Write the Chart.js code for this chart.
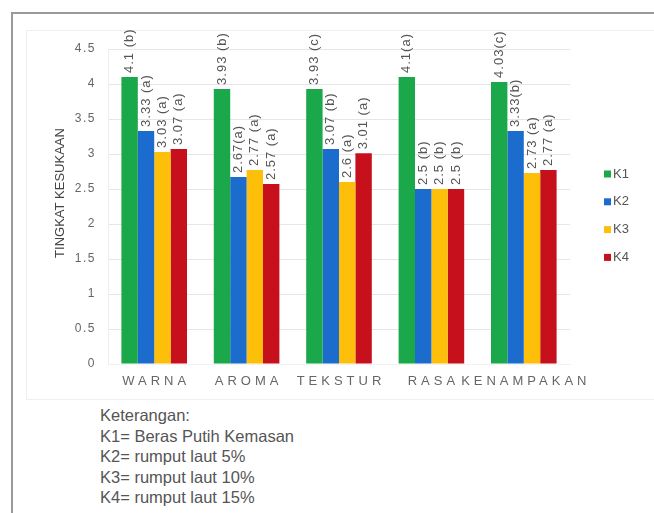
<!DOCTYPE html>
<html>
<head>
<meta charset="utf-8">
<script src="https://cdn.jsdelivr.net/npm/chart.js@4.4.1/dist/chart.umd.min.js"></script>
<style>
    html, body { margin: 0; padding: 0; background: #fff; }
    body { width: 654px; height: 513px; position: relative; overflow: hidden; font-family: "Liberation Sans", Arial, sans-serif; }
    #frame { position: absolute; left: 11px; top: 12px; width: 700px; height: 600px; border-top: 2px solid #9a9a9a; border-left: 2px solid #9a9a9a; }
    #box { position: absolute; left: 26px; top: 30px; width: 700px; height: 368px; border: 1px solid #efefef; }
    #wrap { position: absolute; left: 0; top: 0; width: 654px; height: 400px; }
    #notes { position: absolute; left: 100px; top: 405px; font-size: 16.5px; line-height: 20.5px; color: #555; }
</style>
</head>
<body>
<div id="frame"></div>
<div id="box"></div>
<div id="wrap"><canvas id="chart" width="654" height="400"></canvas></div>
<div id="notes">
    Keterangan:<br>
    K1= Beras Putih Kemasan<br>
    K2= rumput laut 5%<br>
    K3= rumput laut 10%<br>
    K4= rumput laut 15%
</div>
<script>
// chart data
const categories = ['WARNA', 'AROMA', 'TEKSTUR', 'RASA', 'KENAMPAKAN'];
const seriesNames = ['K1', 'K2', 'K3', 'K4'];
const k1 = [4.1, 3.93, 3.93, 4.1, 4.03];
const k2 = [3.33, 2.67, 3.07, 2.5, 3.33];
const k3 = [3.03, 2.77, 2.6, 2.5, 2.73];
const k4 = [3.07, 2.57, 3.01, 2.5, 2.77];
// significance letters shown after each value
const k1Letters = [' (b)', ' (b)', ' (c)', '(a)', '(c)'];
const k2Letters = [' (a)', '(a)', ' (b)', ' (b)', '(b)'];
const k3Letters = [' (a)', ' (a)', ' (a)', ' (b)', ' (a)'];
const k4Letters = [' (a)', ' (a)', ' (a)', ' (b)', ' (a)'];
const yTicks = [0, 0.5, 1, 1.5, 2, 2.5, 3, 3.5, 4, 4.5];
const yTitle = 'TINGKAT KESUKAAN';

const colors = ['#1ba84b', '#1c6cce', '#fdbf0a', '#c6101c'];
const values = [k1, k2, k3, k4];
const letters = [k1Letters, k2Letters, k3Letters, k4Letters];

const textPlugin = {
    id: 'textPlugin',
    beforeDraw(chart) {
        chart.ctx.letterSpacing = '1.5px';
    },
    afterDatasetsDraw(chart) {
        const ctx = chart.ctx;
        // value labels above bars, rotated
        ctx.save();
        ctx.font = '13px "Liberation Sans", Arial, sans-serif';
        ctx.letterSpacing = '1px';
        ctx.fillStyle = '#555';
        ctx.textAlign = 'left';
        ctx.textBaseline = 'middle';
        chart.data.datasets.forEach((ds, di) => {
            const meta = chart.getDatasetMeta(di);
            meta.data.forEach((bar, i) => {
                const text = ds.data[i] + letters[di][i];
                ctx.save();
                ctx.translate(bar.x, bar.y - 4);
                ctx.rotate(-Math.PI / 2);
                ctx.fillText(text, 0, 0);
                ctx.restore();
            });
        });
        ctx.restore();

        // category labels, spaced out
        const xs = chart.scales.x;
        ctx.save();
        ctx.font = '13px "Liberation Sans", Arial, sans-serif';
        ctx.letterSpacing = '4px';
        ctx.fillStyle = '#666';
        ctx.textAlign = 'center';
        ctx.textBaseline = 'middle';
        categories.forEach((c, i) => {
            ctx.fillText(c, xs.getPixelForValue(i) + 2, 381);
        });
        ctx.restore();

        // y axis title
        ctx.save();
        ctx.font = '13px "Liberation Sans", Arial, sans-serif';
        ctx.letterSpacing = '0px';
        ctx.fillStyle = '#444';
        ctx.textAlign = 'center';
        ctx.textBaseline = 'middle';
        ctx.translate(60, 193);
        ctx.rotate(-Math.PI / 2);
        ctx.fillText(yTitle, 0, 0);
        ctx.restore();

        // legend
        ctx.save();
        ctx.font = '13px "Liberation Sans", Arial, sans-serif';
        ctx.letterSpacing = '0px';
        ctx.textAlign = 'left';
        ctx.textBaseline = 'middle';
        chart.data.datasets.forEach((ds, di) => {
            const y = 174 + di * 27.8;
            ctx.fillStyle = ds.backgroundColor;
            ctx.fillRect(604, y - 3.5, 7, 7);
            ctx.fillStyle = '#555';
            ctx.fillText(ds.label, 613, y);
        });
        ctx.restore();
    },
    afterDraw(chart) {
        chart.ctx.letterSpacing = '0px';
    }
};

const ctx = document.getElementById('chart').getContext('2d');
new Chart(ctx, {
    type: 'bar',
    data: {
        labels: categories,
        datasets: seriesNames.map((name, i) => ({
            label: name,
            data: values[i],
            backgroundColor: colors[i],
            borderWidth: 0,
            categoryPercentage: 0.71,
            barPercentage: 1.0
        }))
    },
    options: {
        responsive: false,
        animation: false,
        layout: {
            padding: { top: 49, bottom: 6, left: 40, right: 84 }
        },
        scales: {
            x: {
                grid: { display: false },
                border: { color: '#f2f2f2' },
                ticks: { display: false },
                afterFit(scale) { scale.height = 30; }
            },
            y: {
                min: 0,
                max: 4.5,
                afterBuildTicks(scale) {
                    scale.ticks = yTicks.map(v => ({ value: v }));
                },
                grid: { color: '#e6e6e6', drawTicks: false },
                border: { color: '#eeeeee' },
                ticks: {
                    padding: 12,
                    color: '#666',
                    font: { family: '"Liberation Sans", Arial, sans-serif', size: 12 },
                    callback: v => String(v)
                },
                afterFit(scale) { scale.width = 68; }
            }
        },
        plugins: {
            legend: { display: false },
            tooltip: { enabled: false }
        }
    },
    plugins: [textPlugin]
});
</script>
</body>
</html>
